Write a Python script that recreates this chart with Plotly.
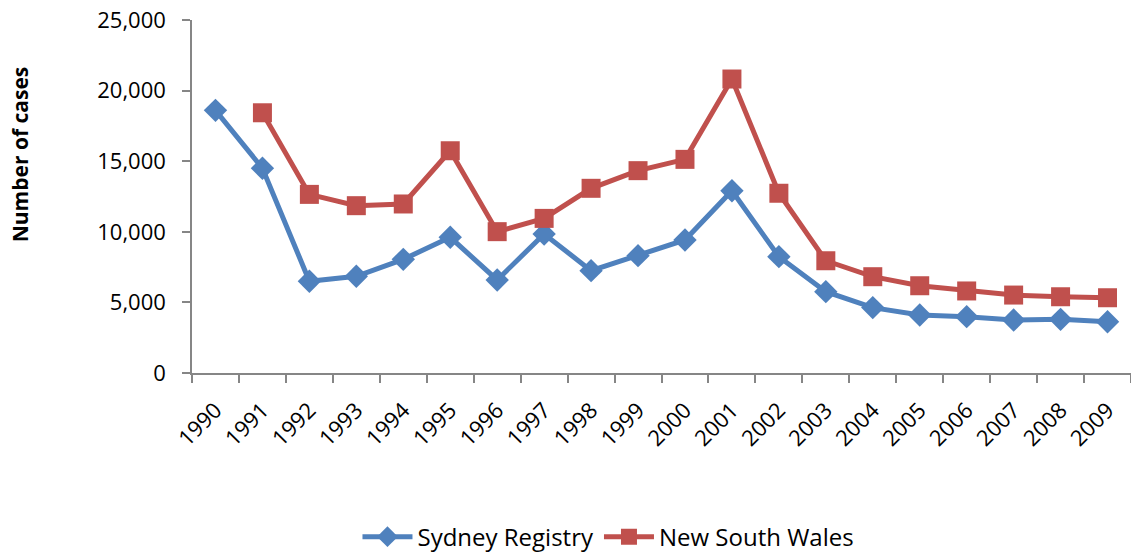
# 1990-2009年の症例数の折れ線グラフ（Sydney Registry と New South Wales）
import plotly.graph_objects as go

years = [str(y) for y in range(1990, 2010)]

sydney_registry = [18600, 14500, 6500, 6850, 8050, 9610, 6590, 9840, 7250, 8310,
                   9420, 12910, 8240, 5760, 4630, 4110, 3990, 3750, 3800, 3630]

new_south_wales = [None, 18430, 12650, 11850, 11970, 15740, 10010, 10950, 13080, 14330,
                   15130, 20820, 12730, 7950, 6820, 6180, 5810, 5520, 5400, 5330]

font_name = "Open Sans"
axis_grey = "#868686"

fig = go.Figure()
fig.add_trace(go.Scatter(
    x=years, y=sydney_registry, name="Sydney Registry",
    mode="lines+markers",
    line=dict(color="#4F81BD", width=5),
    marker=dict(symbol="diamond", size=18, color="#4F81BD"),
))
fig.add_trace(go.Scatter(
    x=years, y=new_south_wales, name="New South Wales",
    mode="lines+markers",
    line=dict(color="#C0504D", width=5),
    marker=dict(symbol="square", size=19, color="#C0504D"),
))

fig.update_layout(
    width=1131, height=552,
    margin=dict(l=192, r=0, t=20, b=179, autoexpand=False),
    plot_bgcolor="white", paper_bgcolor="white",
    font=dict(family=font_name, size=22, color="black"),
    showlegend=True,
    legend=dict(orientation="h", xref="container", yref="container",
                x=0.538, xanchor="center", y=0.027, yanchor="middle",
                font=dict(size=24), itemwidth=50),
    xaxis=dict(
        type="category", tickson="boundaries", tickangle=-45,
        range=[-0.5, 19.5],
        showline=True, linecolor=axis_grey, linewidth=1.5,
        ticks="outside", ticklen=8, tickcolor=axis_grey, tickwidth=1.5,
        showgrid=False, zeroline=False, automargin=False,
        tickfont=dict(size=22), ticklabelstandoff=14,
    ),
    yaxis=dict(
        range=[0, 25000], dtick=5000, tickformat=",",
        showline=True, linecolor=axis_grey, linewidth=1.5,
        ticks="outside", ticklen=8, tickcolor=axis_grey, tickwidth=1.5,
        showgrid=False, zeroline=False, automargin=False,
        tickfont=dict(size=22), ticklabelstandoff=12,
    ),
    annotations=[dict(
        text="<b>Number of cases</b>", textangle=-90,
        xref="paper", yref="paper", x=-0.183, y=0.62,
        xanchor="center", yanchor="middle", showarrow=False,
        font=dict(size=21),
    )],
)

# ページ余白を消して 1131x552 にぴったり合わせる
fig.write_html("out.html", config={"displayModeBar": False},
               post_script="document.body.style.margin='0';")
